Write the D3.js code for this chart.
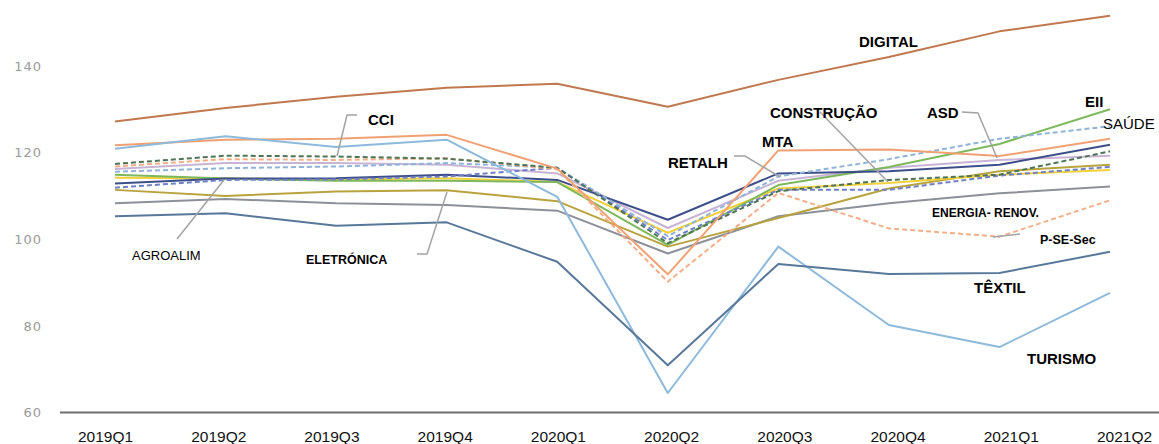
<!DOCTYPE html>
<html>
<head>
<meta charset="utf-8">
<script src="https://cdn.jsdelivr.net/npm/d3@7"></script>
<style>
  html, body { margin: 0; padding: 0; background: #fff; }
  svg { display: block; }
</style>
</head>
<body>
<svg id="chart" width="1159" height="444"></svg>
<script>
// ---------- DATA ----------
const quarters = ["2019Q1","2019Q2","2019Q3","2019Q4","2020Q1","2020Q2","2020Q3","2020Q4","2021Q1","2021Q2"];
const yTicks = [60, 80, 100, 120, 140];

const digital     = [127.2, 130.3, 132.9, 135.0, 135.9, 130.6, 136.8, 142.1, 148.0, 151.6];
const mta         = [121.7, 123.0, 123.2, 124.1, 116.3, 91.9, 120.5, 120.7, 119.2, 123.2];
const turismo     = [120.9, 123.8, 121.3, 123.0, 109.8, 64.5, 98.3, 80.2, 75.1, 87.6];
const cci         = [117.4, 119.3, 119.1, 118.6, 116.5, 99.1, 111.1, 113.7, 114.9, 120.3];
const pseSec      = [116.8, 118.5, 118.3, 118.7, 116.2, 90.2, 110.7, 102.5, 100.6, 109.0];
const asd         = [116.2, 117.6, 117.6, 117.2, 115.2, 102.6, 113.5, 116.5, 118.3, 119.3];
const saude       = [115.6, 116.4, 116.8, 117.6, 116.5, 100.7, 114.5, 118.5, 123.2, 126.1];
const eii         = [114.9, 114.0, 113.5, 113.5, 113.2, 98.7, 112.5, 116.7, 122.0, 130.0];
const construcao  = [114.2, 114.0, 113.8, 114.1, 113.2, 101.5, 111.7, 113.0, 114.9, 116.0];
const retalh      = [112.9, 114.0, 114.1, 114.9, 113.7, 104.5, 115.2, 115.7, 117.2, 121.8];
const agroalim    = [111.9, 113.7, 113.8, 114.5, 116.5, 99.8, 111.4, 111.4, 114.7, 116.7];
const eletronica  = [111.4, 110.0, 111.0, 111.3, 108.8, 98.3, 104.9, 111.7, 115.7, 117.2];
const energia     = [108.3, 109.3, 108.3, 107.9, 106.6, 96.7, 105.3, 108.3, 110.6, 112.2];
const textil      = [105.3, 106.0, 103.1, 103.9, 94.8, 70.9, 94.3, 92.0, 92.2, 97.1];

// series: [values, color, dashed]
const series = [
  [energia,    "#8c9199", false],
  [eletronica, "#b9a33e", false],
  [asd,        "#c8b4d4", false],
  [construcao, "#f2d03c", false],
  [eii,        "#7db85c", false],
  [retalh,     "#3d4f8a", false],
  [agroalim,   "#6f7fc6", true],
  [saude,      "#8fb3d9", true],
  [pseSec,     "#f3ae86", true],
  [cci,        "#4e7456", true],
  [mta,        "#f0a173", false],
  [turismo,    "#8dbadb", false],
  [textil,     "#58789a", false],
  [digital,    "#c0784e", false]
];

// ---------- SCALES ----------
const svg = d3.select("#chart");
const x = d3.scalePoint().domain(quarters).range([115, 1110]);
const xLab = d3.scalePoint().domain(quarters).range([105, 1124]);
const y = d3.scaleLinear().domain([60, 140]).range([412.5, 66]);

// y axis labels
const yAxis = svg.append("g").attr("transform", "translate(48,0)")
  .call(d3.axisLeft(y).tickValues(yTicks).tickSize(0).tickPadding(6));
yAxis.select(".domain").remove();
yAxis.selectAll("text")
  .attr("font-family", "DejaVu Sans, sans-serif")
  .attr("font-size", 13)
  .attr("letter-spacing", 1)
  .attr("fill", "#9a9a9a");

// x axis line
svg.append("line")
  .attr("x1", 60).attr("x2", 1159)
  .attr("y1", y(60)).attr("y2", y(60))
  .attr("stroke", "#6e6e6e").attr("stroke-width", 2);

// x axis labels
const xAxis = svg.append("g").attr("transform", `translate(0,${y(60)})`)
  .call(d3.axisBottom(xLab).tickSize(0).tickPadding(18));
xAxis.select(".domain").remove();
xAxis.selectAll("text")
  .attr("font-family", "Liberation Sans, Arial, sans-serif")
  .attr("font-size", 15.5)
  .attr("fill", "#111")
  .attr("dy", "0.71em");

// lines
const line = d3.line().x((d, i) => x(quarters[i])).y(d => y(d));
svg.append("g").selectAll("path").data(series).join("path")
  .attr("d", d => line(d[0]))
  .attr("fill", "none")
  .attr("stroke", d => d[1])
  .attr("stroke-width", 2)
  .attr("stroke-dasharray", d => d[2] ? "5,3" : null)
  .attr("stroke-linejoin", "round");

// leader lines
const leaders = [
  [[357,115],[347,115],[337,156]],
  [[177,239],[224,180]],
  [[417,254],[427,254],[447,192]],
  [[820,112],[888,182]],
  [[962,112],[978,113],[997,158]],
  [[734,156],[745,156],[780,177]],
  [[993,237],[1020,234]]
];
svg.append("g").selectAll("path").data(leaders).join("path")
  .attr("d", d3.line())
  .attr("fill", "none")
  .attr("stroke", "#a3a3a3")
  .attr("stroke-width", 1.5);

// annotations: [text, x, y, size, bold]
const labels = [
  ["DIGITAL", 859, 47, 15, true],
  ["CCI", 368, 125, 15, true],
  ["CONSTRUÇÃO", 770, 118, 15, true],
  ["ASD", 927, 118, 15, true],
  ["EII", 1085, 107, 15, true],
  ["SAÚDE", 1103, 129, 15, false],
  ["MTA", 762, 147, 15, true],
  ["RETALH", 668, 168, 15, true],
  ["ENERGIA- RENOV.", 932, 217, 12, true],
  ["P-SE-Sec", 1040, 244, 12.5, true],
  ["TÊXTIL", 974, 293, 15, true],
  ["TURISMO", 1027, 364, 15, true],
  ["AGROALIM", 132, 260, 13, false],
  ["ELETRÓNICA", 306, 264, 12.5, true]
];
svg.append("g").selectAll("text").data(labels).join("text")
  .attr("x", d => d[1]).attr("y", d => d[2])
  .attr("font-family", "Liberation Sans, Arial, sans-serif")
  .attr("font-size", d => d[3])
  .attr("font-weight", d => d[4] ? "bold" : "normal")
  .attr("fill", "#000")
  .text(d => d[0]);
</script>
</body>
</html>
